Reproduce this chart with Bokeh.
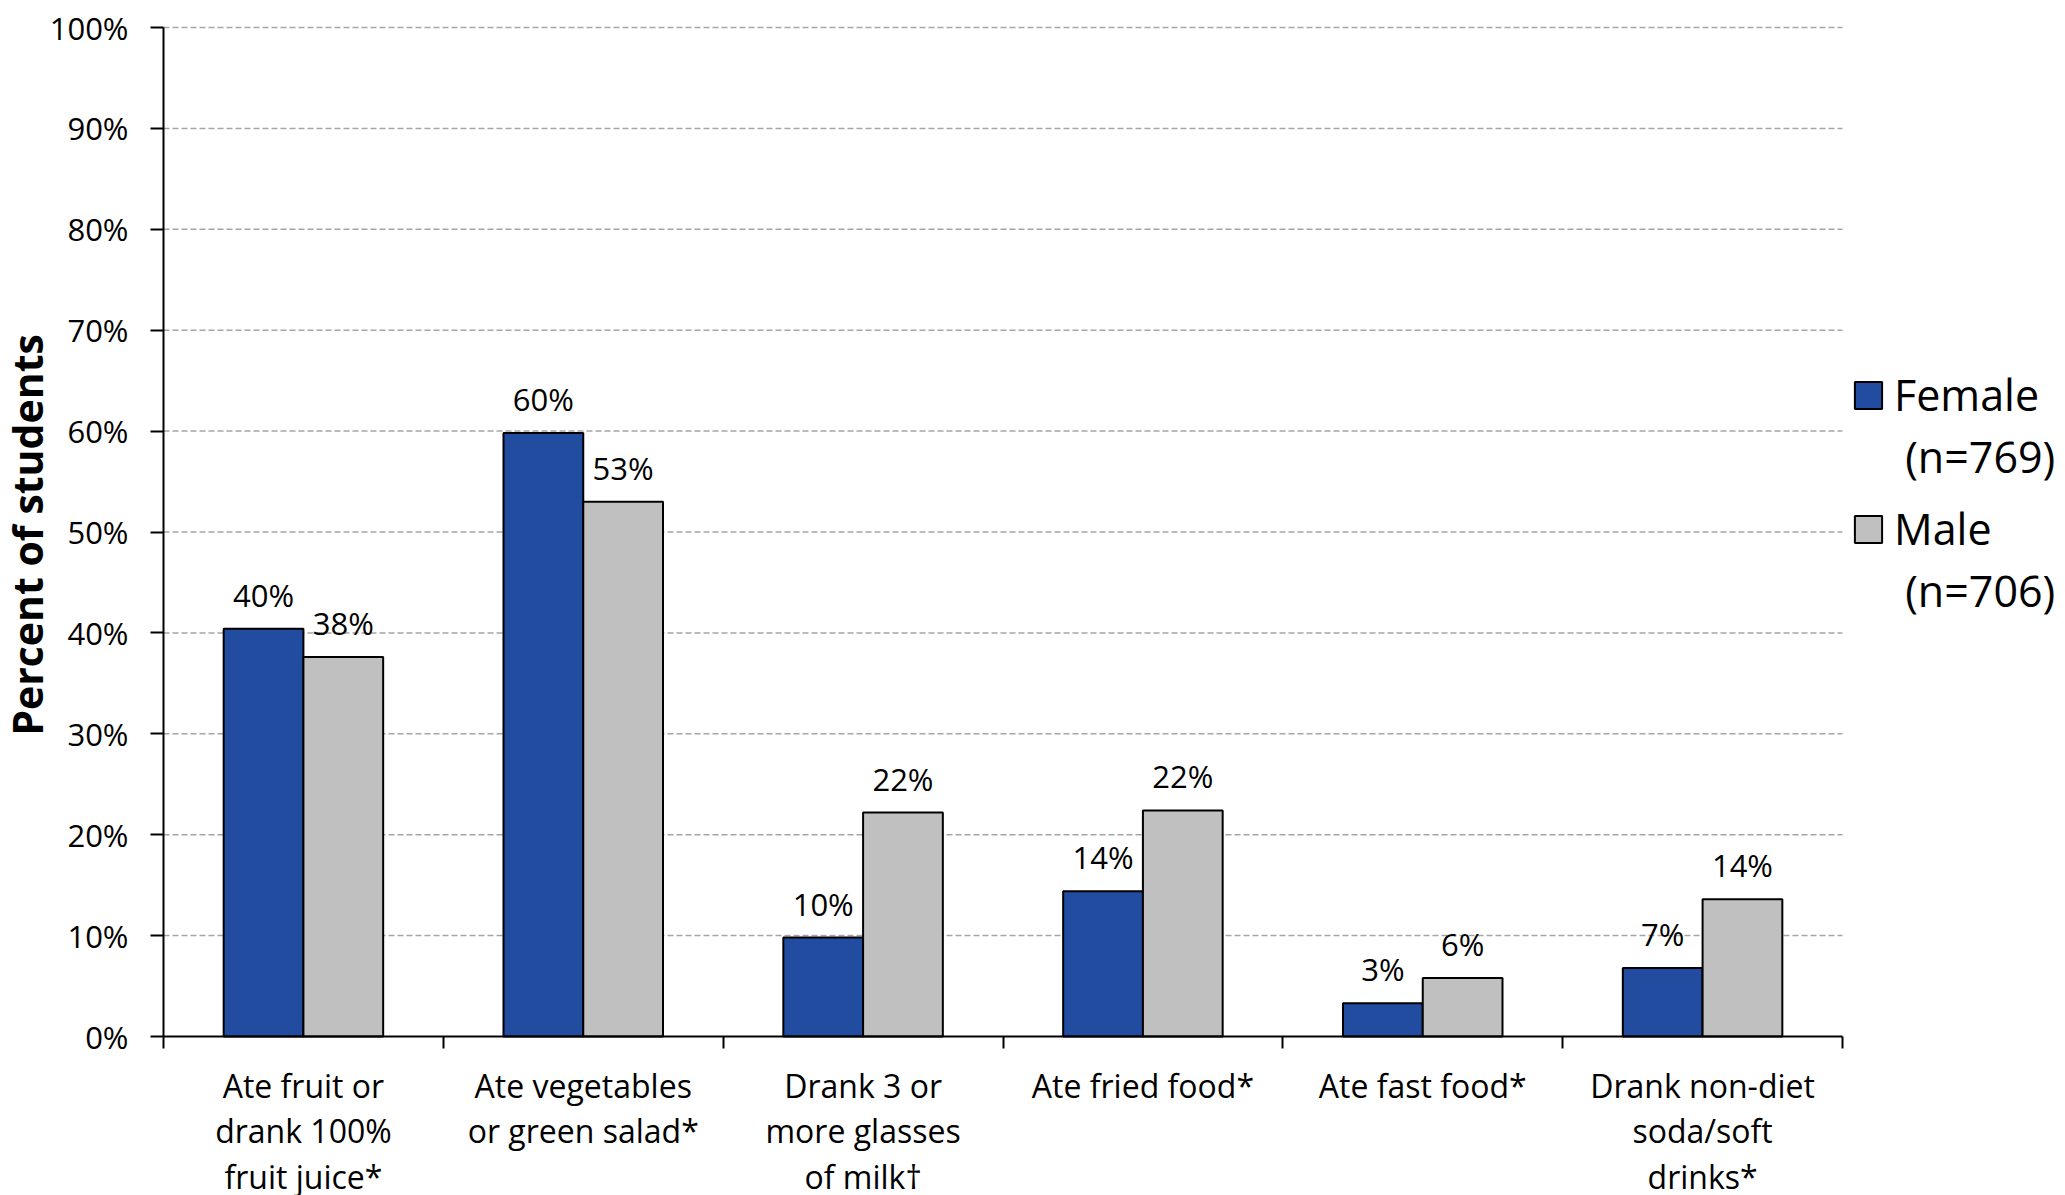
from math import pi
from bokeh.plotting import figure
from bokeh.models import (Range1d, FixedTicker, PrintfTickFormatter, Label,
                          Legend, LegendItem, ColumnDataSource)
from bokeh.transform import dodge
from bokeh.core.properties import value
from bokeh.embed import file_html
from bokeh.resources import INLINE

# ---------------- data ----------------
categories = [
    "Ate fruit or\ndrank 100%\nfruit juice*",
    "Ate vegetables\nor green salad*",
    "Drank 3 or\nmore glasses\nof milk\u2020",
    "Ate fried food*",
    "Ate fast food*",
    "Drank non-diet\nsoda/soft\ndrinks*",
]
female = [40.4, 59.8, 9.8, 14.4, 3.3, 6.8]
male = [37.6, 53.0, 22.2, 22.4, 5.8, 13.6]
female_labels = ["40%", "60%", "10%", "14%", "3%", "7%"]
male_labels = ["38%", "53%", "22%", "22%", "6%", "14%"]
y_ticks = [0, 10, 20, 30, 40, 50, 60, 70, 80, 90, 100]
series_names = ["Female", "Male"]
series_notes = [" (n=769)", " (n=706)"]
y_title = "Percent of students"

# ---------------- style / layout ----------------
BLUE = "#214CA0"
GRAY = "#C0C0C0"
FONT = "Open Sans"
W, H = 2065, 1195
LEFT, RIGHT, TOP, BOTTOM = 163, 223, 27, 159   # plot-area margins in px

n = len(categories)
YMAX = y_ticks[-1]
px_x = (W - LEFT - RIGHT) / n
px_y = (H - TOP - BOTTOM) / YMAX

centers = [i + 0.5 for i in range(n)]
src = ColumnDataSource(dict(x=centers, female=female, male=male,
                            fl=female_labels, ml=male_labels))

p = figure(width=W, height=H, output_backend="svg", toolbar_location=None,
           x_range=Range1d(-LEFT / px_x, n + RIGHT / px_x),
           y_range=Range1d(-BOTTOM / px_y, YMAX + TOP / px_y),
           min_border=0, min_border_left=0, min_border_right=0,
           min_border_top=0, min_border_bottom=0)
p.outline_line_color = None
p.background_fill_color = "white"
p.border_fill_color = "white"
p.xgrid.visible = False
p.ygrid.visible = False

# dashed gridlines spanning the plot area only
grid_y = y_ticks[1:]
p.segment(x0=[0] * len(grid_y), x1=[n] * len(grid_y), y0=grid_y, y1=grid_y,
          line_color="#A6A6A6", line_dash="6 3", line_width=1.5)

# bars
fr = p.vbar(x=dodge("x", -0.1425), top="female", width=0.285, source=src,
            fill_color=BLUE, line_color="black", line_width=2)
mr = p.vbar(x=dodge("x", 0.1425), top="male", width=0.285, source=src,
            fill_color=GRAY, line_color="black", line_width=2)

# value labels
for field, lab, off in (("female", "fl", -0.1425), ("male", "ml", 0.1425)):
    p.text(x=dodge("x", off), y=field, text=lab, source=src,
           text_align="center", text_baseline="alphabetic", y_offset=-34,
           text_font=value(FONT), text_font_size="31px", text_color="black")

# y axis
ya = p.yaxis[0]
ya.fixed_location = 0
ya.bounds = (0, YMAX)
ya.ticker = FixedTicker(ticks=y_ticks)
ya.formatter = PrintfTickFormatter(format="%d%%")
ya.axis_line_color = "black"
ya.axis_line_width = 2
ya.major_tick_line_color = "black"
ya.major_tick_line_width = 2
ya.major_tick_out = 13
ya.major_tick_in = 0
ya.minor_tick_line_color = None
ya.major_label_standoff = 22
ya.major_label_text_font = FONT
ya.major_label_text_font_size = "31px"
ya.major_label_text_color = "black"

# x axis: boundary ticks only
xa = p.xaxis[0]
xa.fixed_location = 0
xa.bounds = (0, n)
xa.ticker = FixedTicker(ticks=list(range(n + 1)))
xa.axis_line_color = "black"
xa.axis_line_width = 2
xa.major_tick_line_color = "black"
xa.major_tick_line_width = 2
xa.major_tick_out = 12
xa.major_tick_in = 0
xa.minor_tick_line_color = None
xa.major_label_text_font_size = "0px"
xa.major_label_text_color = None

# category labels
for c, t in zip(centers, categories):
    p.add_layout(Label(x=c, y=0, x_units="data", y_units="data", y_offset=-27,
                       text=t, text_align="center", text_baseline="top",
                       text_font=FONT, text_font_size="32px", text_color="black",
                       text_line_height=1.06))

# y title
p.add_layout(Label(x=0, y=YMAX / 2, x_units="data", y_units="data",
                   x_offset=-137, y_offset=-3,
                   text=y_title, angle=pi / 2, text_align="center",
                   text_baseline="middle", text_font=FONT, text_font_size="41px",
                   text_font_style="bold", text_color="black"))

# legends
dummy = p.vbar(x=[], top=[], width=0.1, fill_alpha=0, line_alpha=0)
legend_pos = [(1851, 709), (1851, 575)]
for name, note, rend, loc in zip(series_names, series_notes, [fr, mr], legend_pos):
    lg = Legend(items=[LegendItem(label=name, renderers=[rend]),
                       LegendItem(label=note, renderers=[dummy])],
                location=loc, orientation="vertical", padding=0, margin=0,
                spacing=3, glyph_width=34, glyph_height=34, label_height=27,
                label_standoff=9, border_line_color=None,
                background_fill_alpha=0, label_text_font=FONT,
                label_text_font_size="43px", label_text_color="black")
    p.add_layout(lg)

open("out.html", "w").write(file_html(p, INLINE))
